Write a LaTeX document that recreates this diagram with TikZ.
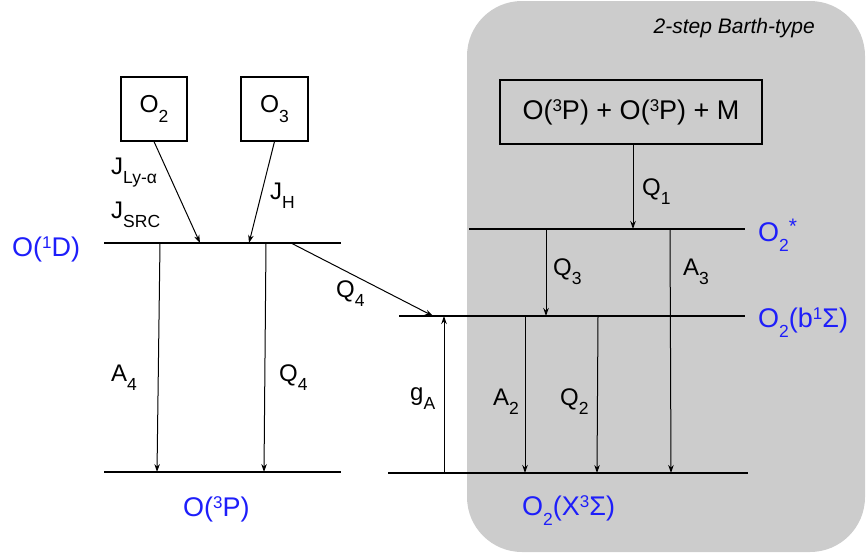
\documentclass[tikz,border=0pt]{standalone}
\usepackage{fontspec}
\setmainfont{Liberation Sans}
\usetikzlibrary{arrows.meta}
\newcommand\dn[1]{\raisebox{-0.72ex}{\fontsize{17.5}{17.5}\selectfont #1}}
\newcommand\up[1]{\raisebox{0.55ex}{\fontsize{17}{17}\selectfont #1}}
\definecolor{lblue}{RGB}{30,30,250}
\definecolor{panel}{RGB}{204,204,204}
\begin{document}
\begin{tikzpicture}[x=1pt,y=-1pt,
  lvl/.style={line width=2.6pt},
  arr/.style={line width=1pt,-{Stealth[length=8pt,width=5.5pt]}},
  txt/.style={font=\fontsize{24}{28}\selectfont, inner sep=0pt, anchor=base west},
  lab/.style={txt,font=\fontsize{27}{30}\selectfont,text=lblue},
  bx/.style={draw,line width=1.1pt,font=\fontsize{24.5}{28}\selectfont, inner sep=0pt}]
\useasboundingbox (0,0) rectangle (866,554);
\fill[panel, rounded corners=55pt] (467,1) rectangle (865,552);
\node[font=\itshape\fontsize{21}{24}\selectfont, anchor=base east, inner sep=0pt] (title) at (815,33) {2-step Barth-type};
% boxes
\node[bx, minimum width=66pt, minimum height=64pt] (o2) at (154,109) {O\dn{2}};
\node[bx, minimum width=67pt, minimum height=64pt] (o3) at (274.5,109) {O\dn{3}};
\node[bx, font=\fontsize{27}{30}\selectfont, minimum width=262pt, minimum height=64pt] (m) at (631,112) {O(\up{3}P) + O(\up{3}P) + M};
% levels
\coordinate (d1) at (104,243); \coordinate (d2) at (341,243);
\coordinate (p1) at (104,472); \coordinate (p2) at (341,472);
\coordinate (s1) at (469,229); \coordinate (s2) at (745,229);
\coordinate (b1) at (399,316); \coordinate (b2) at (745,316);
\coordinate (x1) at (388,473); \coordinate (x2) at (748,473);
\draw[lvl] (d1) -- (d2);
\draw[lvl] (p1) -- (p2);
\draw[lvl] (s1) -- (s2);
\draw[lvl] (b1) -- (b2);
\draw[lvl] (x1) -- (x2);
% level labels
\node[lab] (lO1D) at (12,256) {O(\up{1}D)};
\node[lab] (lO3P) at (183,516) {O(\up{3}P)};
\node[lab] (lO2s) at (758,241) {O\dn{2}\raisebox{0.5ex}{\fontsize{21}{21}\selectfont *}};
\node[lab] (lO2b) at (758,327) {O\dn{2}(b\up{1}Σ)};
\node[lab] (lO2X) at (522,515) {O\dn{2}(X\up{3}Σ)};
% arrow endpoints
\coordinate (ja) at (200,243);
\coordinate (jh) at (249,243);
\coordinate (a4t) at (160,243); \coordinate (a4b) at (157,472);
\coordinate (q4t) at (266,243); \coordinate (q4b) at (264,472);
\coordinate (qdt) at (291,243); \coordinate (qdb) at (433,316);
\coordinate (gb) at (444,473); \coordinate (gt) at (444,316);
\coordinate (q1b) at (633,229);
\coordinate (q3t) at (546,229); \coordinate (q3b) at (546,316);
\coordinate (a3t) at (670,229); \coordinate (a3b) at (671,473);
\coordinate (a2t) at (525,316); \coordinate (a2b) at (525,473);
\coordinate (q2t) at (598,316); \coordinate (q2b) at (597,473);
\draw[arr] (o2.south) -- (ja);
\draw[arr] (o3.south) -- (jh);
\draw[arr] (a4t) -- (a4b);
\draw[arr] (q4t) -- (q4b);
\draw[arr] (qdt) -- (qdb);
\draw[arr] (gb) -- (gt);
\draw[arr] (m.south -| q1b) -- (q1b);
\draw[arr] (q3t) -- (q3b);
\draw[arr] (a3t) -- (a3b);
\draw[arr] (a2t) -- (a2b);
\draw[arr] (q2t) -- (q2b);
% rate labels
\node[txt] (tja) at (111,174) {J\dn{Ly-α}};
\node[txt] (tjs) at (111,218) {J\dn{SRC}};
\node[txt] (tjh) at (270,199) {J\dn{H}};
\node[txt] (ta4) at (111,381) {A\dn{4}};
\node[txt] (tq4) at (279,381) {Q\dn{4}};
\node[txt] (tqd) at (336,297) {Q\dn{4}};
\node[txt] (tga) at (410,400) {g\dn{A}};
\node[txt] (tq1) at (642,195) {Q\dn{1}};
\node[txt] (tq3) at (553,275) {Q\dn{3}};
\node[txt] (ta3) at (683,275) {A\dn{3}};
\node[txt] (ta2) at (493,405) {A\dn{2}};
\node[txt] (tq2) at (560,405) {Q\dn{2}};
\end{tikzpicture}
\end{document}
